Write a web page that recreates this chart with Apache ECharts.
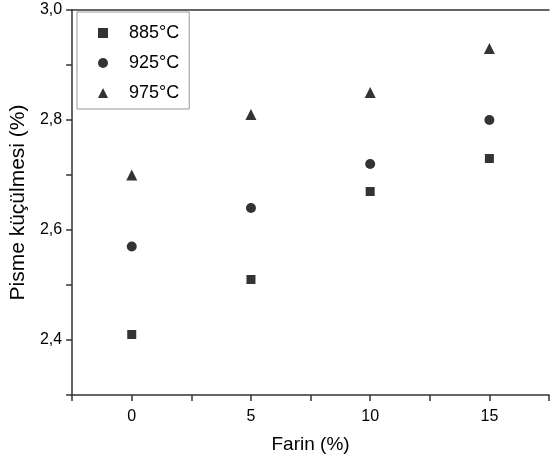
<!DOCTYPE html>
<html>
<head>
<meta charset="utf-8">
<script src="https://cdn.jsdelivr.net/npm/echarts@6/dist/echarts.min.js"></script>
<style>
  html, body { margin: 0; padding: 0; background: #fff; }
  #chart { width: 552px; height: 461px; }
</style>
</head>
<body>
<div id="chart"></div>
<script>
// Farin oranı (%)
var farin = [0, 5, 10, 15];
// Pisme küçülmesi (%) değerleri
var s885 = [2.41, 2.51, 2.67, 2.73];
var s925 = [2.57, 2.64, 2.72, 2.80];
var s975 = [2.70, 2.81, 2.85, 2.93];
var seriesNames = ['885°C', '925°C', '975°C'];
var symbols = ['rect', 'circle', 'triangle'];
var symbolSizes = [9, 10, 11];

function pairs(xs, ys) {
    return xs.map(function (x, i) { return [x, ys[i]]; });
}

var chart = echarts.init(document.getElementById('chart'));
var textFont = 'Liberation Sans, Arial, sans-serif';
var axisColor = '#333';

var option = {
    animation: false,
    grid: { left: 72, right: 0, top: 10, bottom: 66 },
    legend: {
        orient: 'vertical',
        left: 77, top: 12,
        padding: [12, 10, 7, 21],
        itemWidth: 10, itemHeight: 10, itemGap: 12,
        borderColor: '#999', borderWidth: 1,
        textStyle: { fontFamily: textFont, fontSize: 18, color: '#000', padding: [0, 0, 0, 16] },
        data: seriesNames.map(function (n, i) { return { name: n, icon: symbols[i] }; })
    },
    xAxis: [{
        type: 'value',
        min: -2.5, max: 17.5, interval: 2.5,
        name: 'Farin (%)',
        nameLocation: 'middle',
        nameGap: 40,
        nameTextStyle: { fontFamily: textFont, fontSize: 19, color: '#000' },
        axisLine: { onZero: false, lineStyle: { color: axisColor, width: 1.5 } },
        axisTick: { inside: false, length: 6, lineStyle: { color: axisColor, width: 1.5 } },
        splitLine: { show: false },
        axisLabel: {
            fontFamily: textFont, fontSize: 16, color: '#000', margin: 14,
            formatter: function (v) { return v % 5 === 0 ? String(v) : ''; }
        }
    }, {
        // top frame line
        type: 'value',
        position: 'top',
        min: -2.5, max: 17.5,
        axisLine: { onZero: false, lineStyle: { color: axisColor, width: 1.5 } },
        axisTick: { show: false },
        axisLabel: { show: false },
        splitLine: { show: false }
    }],
    yAxis: {
        type: 'value',
        min: 2.3, max: 3.0, interval: 0.1,
        name: 'Pisme küçülmesi (%)',
        nameLocation: 'middle',
        nameGap: 41,
        nameTextStyle: { fontFamily: textFont, fontSize: 21, color: '#000', padding: [0, 0, 0, 0] },
        axisLine: { onZero: false, lineStyle: { color: axisColor, width: 1.5 } },
        axisTick: { inside: false, length: 6, lineStyle: { color: axisColor, width: 1.5 } },
        splitLine: { show: false },
        axisLabel: {
            fontFamily: textFont, fontSize: 16, color: '#000', margin: 10,
            formatter: function (v) {
                var r = Math.round(v * 10);
                return r % 2 === 0 ? (r / 10).toFixed(1).replace('.', ',') : '';
            }
        }
    },
    series: [s885, s925, s975].map(function (vals, i) {
        return {
            name: seriesNames[i],
            type: 'scatter',
            symbol: symbols[i],
            symbolSize: symbolSizes[i],
            itemStyle: { color: '#000' },
            data: pairs(farin, vals)
        };
    })
};
chart.setOption(option);
</script>
</body>
</html>
